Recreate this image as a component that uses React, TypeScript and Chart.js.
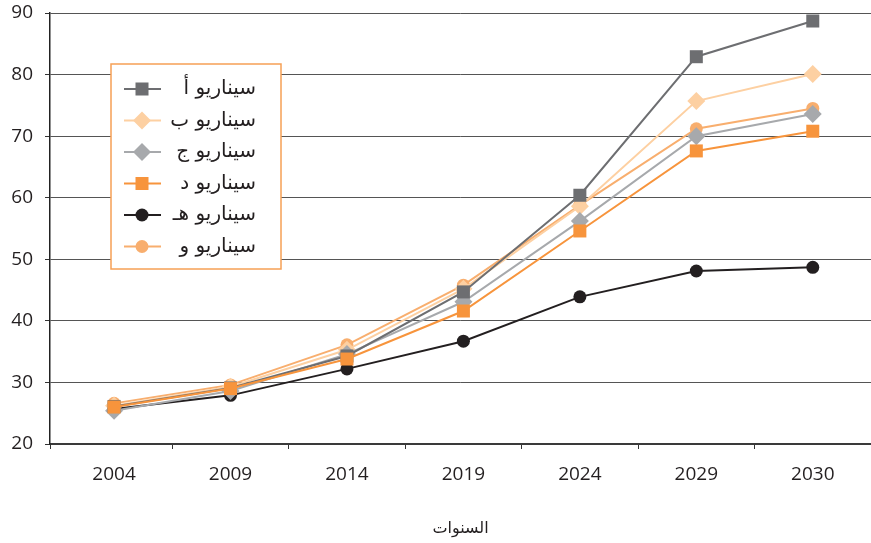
import React, { useEffect, useRef } from 'react';
import { Chart, registerables } from 'chart.js';

Chart.register(...registerables);

// ---- data ----
const years = ['2004', '2009', '2014', '2019', '2024', '2029', '2030'];
const seriesNames = ['سيناريو أ', 'سيناريو ب', 'سيناريو ج', 'سيناريو د', 'سيناريو هـ', 'سيناريو و'];
const scenarioA = [26.1, 29.1, 34.3, 44.7, 60.4, 82.9, 88.7];
const scenarioB = [26.2, 29.3, 35.3, 45.2, 58.6, 75.7, 80.1];
const scenarioC = [25.4, 28.6, 34.6, 43.1, 56.2, 70.0, 73.6];
const scenarioD = [26.0, 29.0, 33.8, 41.6, 54.6, 67.6, 70.8];
const scenarioE = [25.7, 27.9, 32.2, 36.7, 43.9, 48.1, 48.7];
const scenarioF = [26.6, 29.6, 36.1, 45.8, 58.8, 71.2, 74.5];
const yMin = 20;
const yMax = 90;
const yStep = 10;
const xAxisTitle = 'السنوات';

// ---- styles ----
const colors = ['#6d6e71', '#fdd0a2', '#a7a9ac', '#f7943c', '#231f20', '#f8ae6e'];
const pointStyles = ['rect', 'rectRot', 'rectRot', 'rect', 'circle', 'circle'];
const pointRadii = [9.2, 9, 9, 9.2, 6.5, 6.5];
const drawOrder = [1, 3, 2, 0, 4, 5];
const FONT = "'Open Sans', 'DejaVu Sans', sans-serif";
const AR_FONT = "'DejaVu Sans', sans-serif";

function drawMarker(ctx: CanvasRenderingContext2D, style: string, x: number, y: number, r: number, color: string) {
  ctx.save();
  ctx.fillStyle = color;
  ctx.beginPath();
  if (style === 'rect') {
    const s = r * Math.SQRT1_2;
    ctx.rect(x - s, y - s, 2 * s, 2 * s);
  } else if (style === 'rectRot') {
    ctx.moveTo(x - r, y);
    ctx.lineTo(x, y - r);
    ctx.lineTo(x + r, y);
    ctx.lineTo(x, y + r);
    ctx.closePath();
  } else {
    ctx.arc(x, y, r, 0, Math.PI * 2);
  }
  ctx.fill();
  ctx.restore();
}

const boxLegend = {
  id: 'boxLegend',
  afterDraw(chart: any) {
    const { ctx, chartArea } = chart;
    const left = chartArea.left + 61;
    const top = chartArea.top + 51;
    const w = 170;
    const h = 205;
    ctx.save();
    ctx.fillStyle = '#ffffff';
    ctx.fillRect(left, top, w, h);
    ctx.strokeStyle = '#f6a055';
    ctx.lineWidth = 1.5;
    ctx.strokeRect(left, top, w, h);
    chart.data.datasets.forEach((ds: any, i: number) => {
      const cy = top + 25 + i * 31.5;
      ctx.strokeStyle = ds.borderColor;
      ctx.lineWidth = 2;
      ctx.beginPath();
      ctx.moveTo(left + 13, cy);
      ctx.lineTo(left + 50, cy);
      ctx.stroke();
      drawMarker(ctx, ds.pointStyle, left + 31, cy, ds.pointRadius, ds.backgroundColor);
      ctx.fillStyle = '#231f20';
      ctx.font = `20px ${AR_FONT}`;
      ctx.textAlign = 'right';
      ctx.textBaseline = 'middle';
      ctx.direction = 'rtl';
      ctx.fillText(ds.label, left + 145, cy);
    });
    ctx.restore();
  },
};

export default function App() {
  const canvasRef = useRef<HTMLCanvasElement | null>(null);

  useEffect(() => {
    const canvas = canvasRef.current;
    if (!canvas) return;
    const series = [scenarioA, scenarioB, scenarioC, scenarioD, scenarioE, scenarioF];
    const xTickValues: number[] = [-0.55];
    years.forEach((_, i) => {
      xTickValues.push(i);
      xTickValues.push(i + 0.5);
    });

    const chart = new Chart(canvas, {
      type: 'line',
      data: {
        datasets: series.map((vals, i) => ({
          label: seriesNames[i],
          data: vals.map((v, j) => ({ x: j, y: v })),
          borderColor: colors[i],
          backgroundColor: colors[i],
          borderWidth: 2,
          pointStyle: pointStyles[i] as any,
          pointRadius: pointRadii[i],
          pointBorderWidth: 0,
          pointBackgroundColor: colors[i],
          tension: 0,
          order: drawOrder[i],
        })),
      },
      options: {
        responsive: false,
        animation: false,
        layout: { autoPadding: false, padding: { top: 13, left: 0, right: 0, bottom: 0 } },
        plugins: {
          legend: { display: false },
          tooltip: { enabled: false },
        },
        scales: {
          x: {
            type: 'linear',
            min: -0.55,
            max: 6.5,
            afterBuildTicks: (scale: any) => {
              scale.ticks = xTickValues.map((value) => ({ value }));
            },
            afterFit: (scale: any) => {
              scale.height = 99;
              scale.paddingLeft = 0;
              scale.paddingRight = 0;
            },
            grid: {
              display: true,
              drawOnChartArea: false,
              drawTicks: true,
              tickLength: 5,
              tickColor: (ctx: any) =>
                Number.isInteger(ctx.tick && ctx.tick.value) ? 'rgba(0,0,0,0)' : '#333333',
            },
            border: { display: true, color: '#3a3a3a', width: 2 },
            ticks: {
              autoSkip: false,
              maxRotation: 0,
              padding: 14,
              color: '#231f20',
              font: { family: FONT, size: 19 },
              callback: (value: any) => (Number.isInteger(value) ? years[value] : ''),
            },
            title: {
              display: true,
              text: xAxisTitle,
              color: '#231f20',
              font: { family: AR_FONT, size: 16 },
              padding: { top: 4, bottom: 5 },
            },
          },
          y: {
            min: yMin,
            max: yMax,
            afterFit: (scale: any) => {
              scale.width = 50;
              scale.paddingTop = 0;
              scale.paddingBottom = 0;
            },
            grid: {
              color: '#555555',
              lineWidth: 1,
              tickLength: 5,
              tickColor: '#333333',
            },
            border: { display: true, color: '#222222', width: 1.5 },
            ticks: {
              stepSize: yStep,
              padding: 12,
              color: '#231f20',
              font: { family: FONT, size: 19 },
            },
          },
        },
      },
      plugins: [boxLegend],
    });

    return () => chart.destroy();
  }, []);

  return (
    <div style={{ position: 'absolute', left: 0, top: 0, width: 871, height: 543, background: '#ffffff' }}>
      <canvas ref={canvasRef} width={871} height={543} style={{ display: 'block' }} />
    </div>
  );
}
